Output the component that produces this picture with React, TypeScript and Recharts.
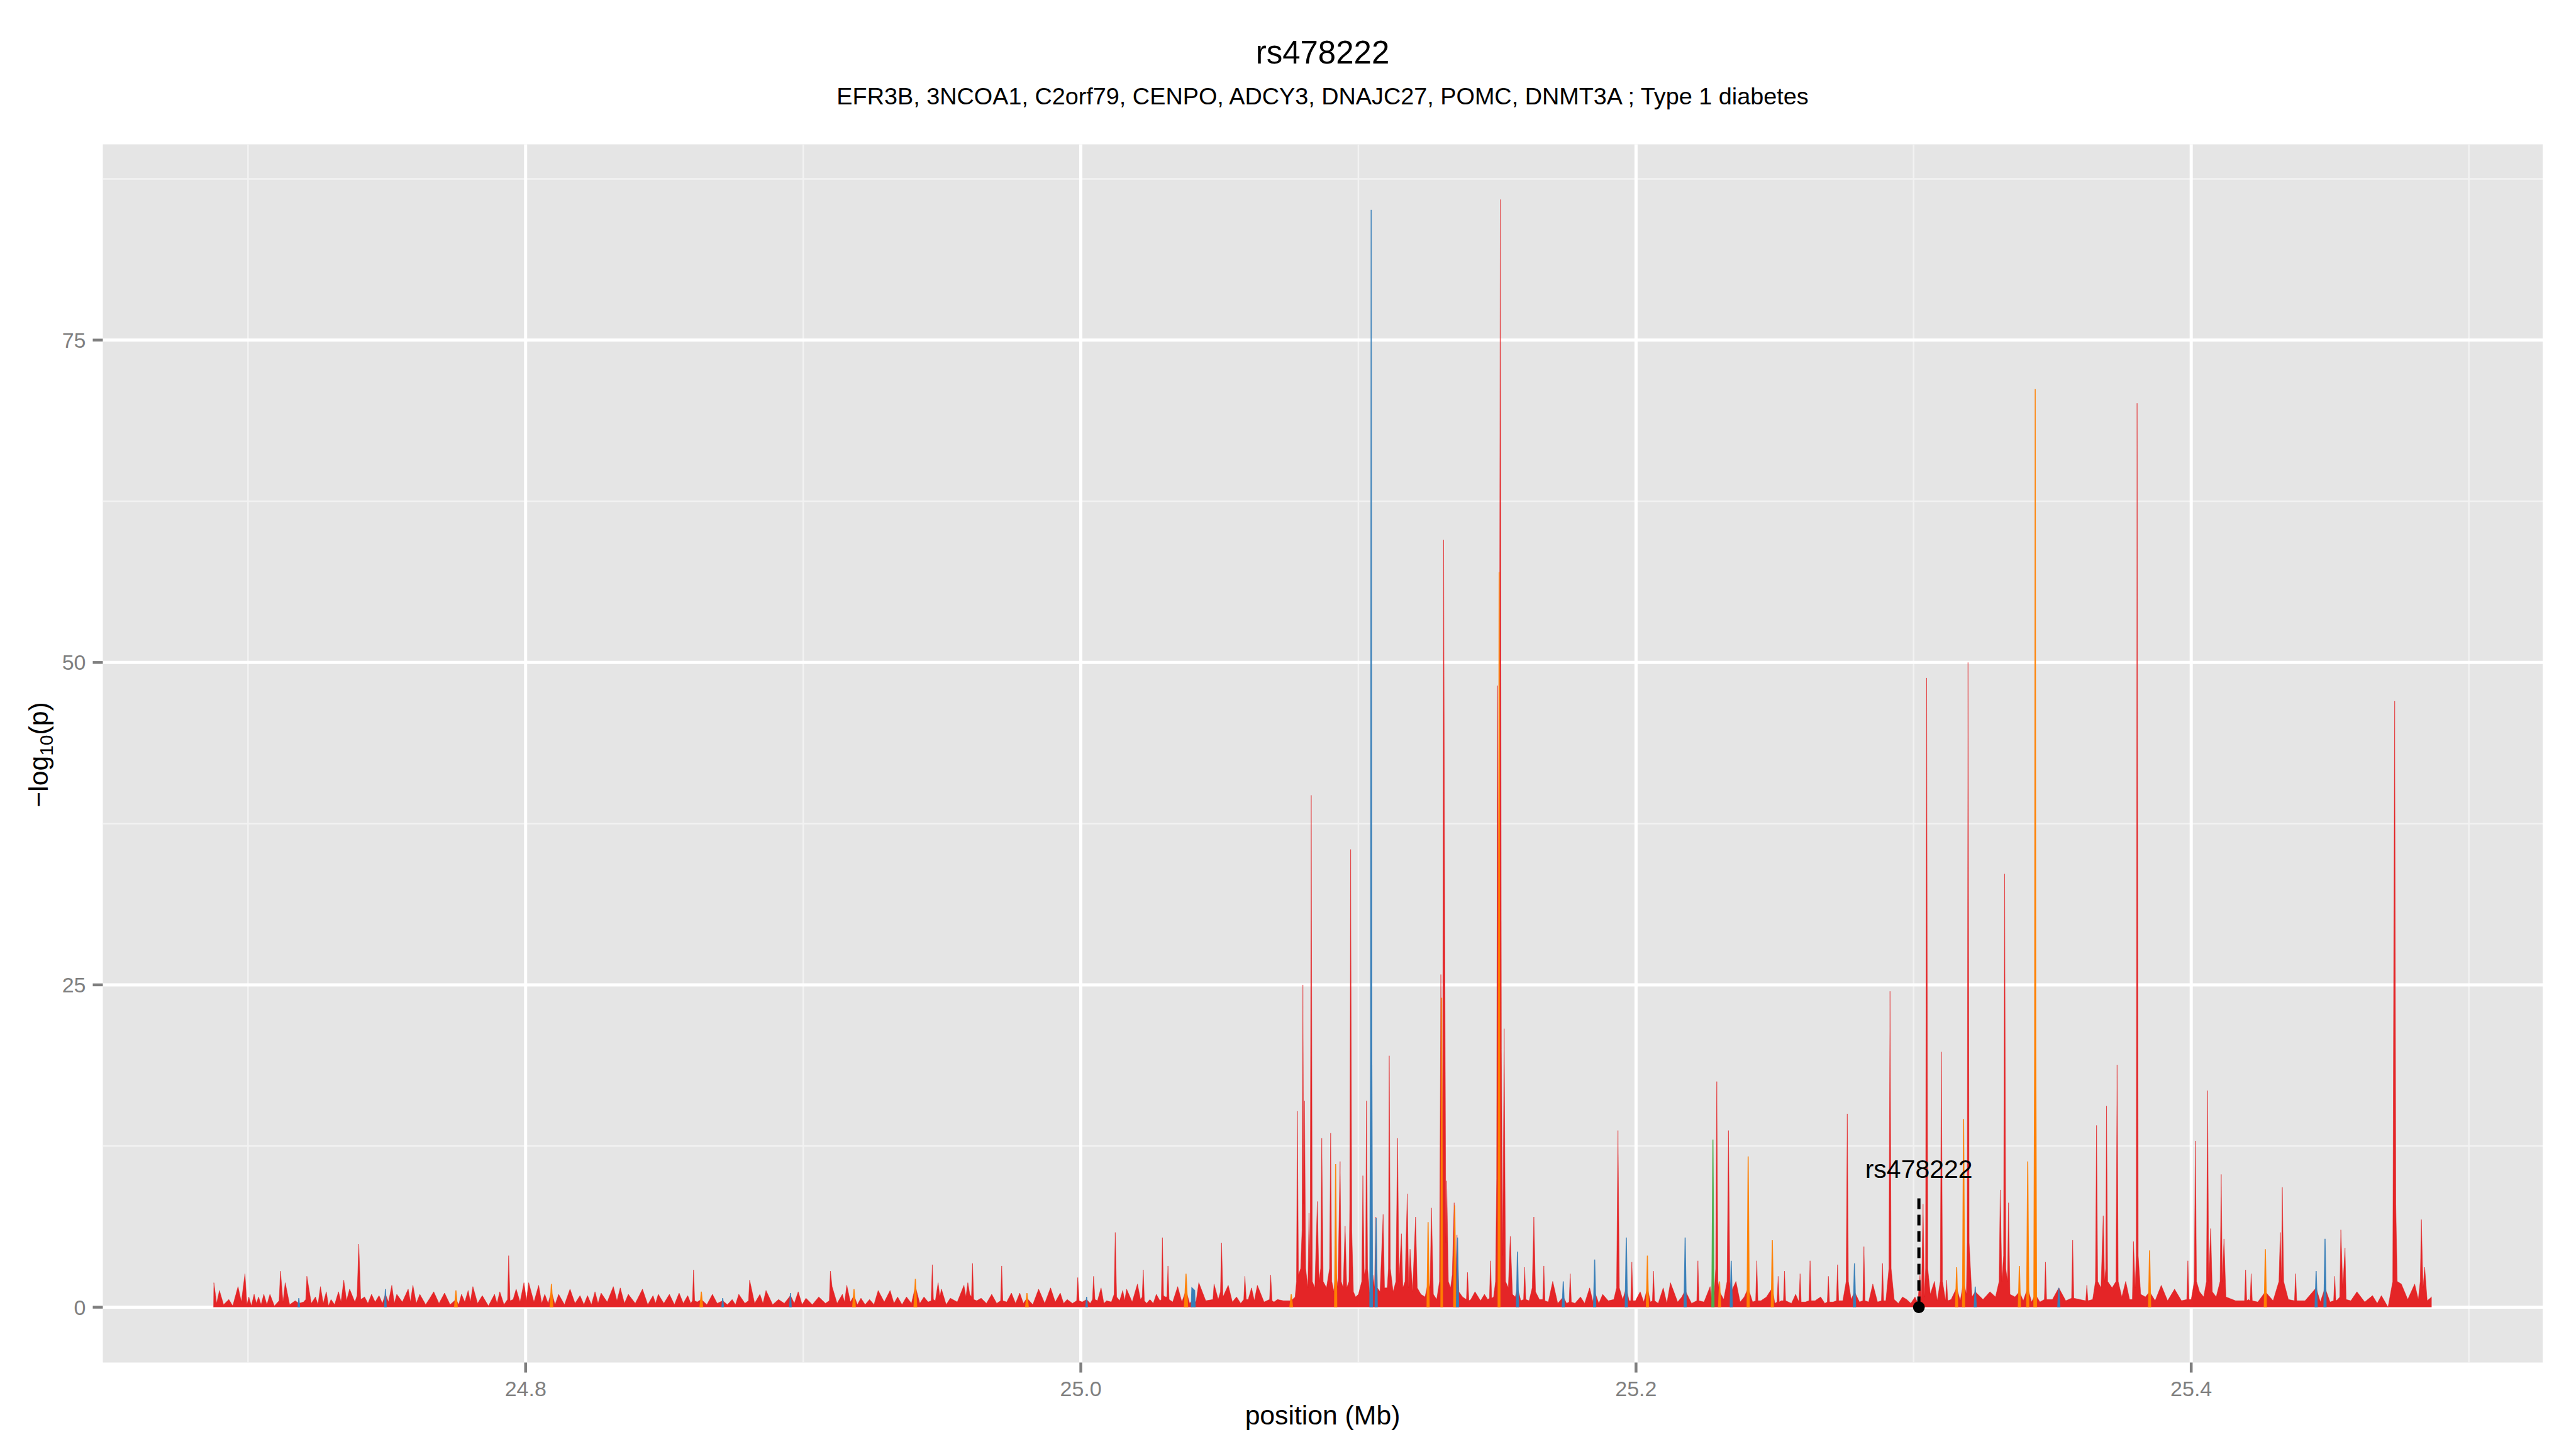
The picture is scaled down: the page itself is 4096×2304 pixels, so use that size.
import React from 'react';
import { ComposedChart, Area, XAxis, YAxis, CartesianGrid, ReferenceLine, ReferenceDot } from 'recharts';

const FONT = "'Liberation Sans', Arial, Helvetica, sans-serif";

const titleText = 'rs478222';
const subtitleText = 'EFR3B, 3NCOA1, C2orf79, CENPO, ADCY3, DNAJC27, POMC, DNMT3A ; Type 1 diabetes';
const xTitle = 'position (Mb)';

const xTicks = [24.8, 25.0, 25.2, 25.4];
const xMinor = [24.7, 24.9, 25.1, 25.3, 25.5];
const yTicks = [0, 25, 50, 75];
const yMinor = [12.5, 37.5, 62.5, 87.5];
const xDomain = [24.6477, 25.5266];
const yDomain = [-4.29, 90.18];

const snpName = 'rs478222';
const snpPos = 25.3019;
const snpLineTop = 8.5;
const snpLabelY = 10;

// red series: [position (Mb), -log10(p)]
const redA: [number, number][] = [
  [24.6876,0],[24.6877,1.9],[24.6887,0.3],[24.6897,1.3],[24.6912,0.2],[24.6931,0.6],[24.6945,0.1],[24.6964,1.6],[24.6976,0.4],[24.6989,2.6],
  [24.6996,0.2],[24.7003,0.8],[24.7012,0.1],[24.7022,1.0],[24.7030,0.3],[24.7038,0.8],[24.7047,0.2],[24.7057,1.0],[24.7068,0.2],[24.7079,1.0],
  [24.7095,0.1],[24.7112,0.5],[24.7117,2.8],[24.7126,0.4],[24.7134,1.9],[24.7150,0.2],[24.7170,0.5],[24.7183,0.3],[24.7200,0.4],[24.7208,0.6],
  [24.7212,2.4],[24.7228,0.3],[24.7243,0.8],[24.7252,0.2],[24.7261,1.6],[24.7271,0.3],[24.7282,1.2],[24.7290,0.1],[24.7299,0.6],[24.7312,0.2],
  [24.7326,1.2],[24.7335,0.4],[24.7345,2.1],[24.7355,0.5],[24.7366,1.4],[24.7385,0.4],[24.7393,0.9],[24.7399,4.9],[24.7406,0.6],[24.7420,0.8],
  [24.7432,0.3],[24.7445,1.0],[24.7458,0.4],[24.7472,0.9],[24.7484,0.3],[24.7495,1.0],[24.7506,0.4],[24.7518,1.7],[24.7527,0.3],[24.7536,1.0],
  [24.7556,0.4],[24.7577,1.4],[24.7585,0.4],[24.7594,1.7],[24.7606,0.3],[24.7619,1.0],[24.7640,0.2],[24.7655,0.7],[24.7669,1.2],[24.7688,0.3],
  [24.7708,1.1],[24.7728,0.2],[24.7749,0.6],[24.7759,0.2],[24.7769,1.0],[24.7781,0.4],[24.7793,1.3],[24.7801,0.4],[24.7810,1.6],[24.7827,0.3],
  [24.7844,0.9],[24.7866,0.1],[24.7888,1.0],[24.7897,0.3],[24.7907,1.2],[24.7922,0.2],[24.7935,0.6],[24.7939,4.0],[24.7944,0.5],[24.7955,0.6],
  [24.7966,1.4],[24.7980,0.4],[24.7994,1.9],[24.8003,0.5],[24.8011,1.9],[24.8030,0.4],[24.8047,1.7],[24.8058,0.3],[24.8069,1.0],[24.8081,0.3],
  [24.8093,1.2],[24.8106,0.2],[24.8119,1.0],[24.8140,0.2],[24.8160,1.4],[24.8178,0.3],[24.8196,0.9],[24.8210,0.2],[24.8223,0.9],[24.8237,0.2],
  [24.8250,1.2],[24.8261,0.3],[24.8272,1.1],[24.8294,0.4],[24.8316,1.6],[24.8329,0.5],[24.8341,1.5],[24.8356,0.3],[24.8370,1.0],[24.8395,0.3],
  [24.8421,1.4],[24.8440,0.2],[24.8459,0.9],[24.8468,0.3],[24.8478,1.0],[24.8498,0.3],[24.8518,1.0],[24.8536,0.2],[24.8553,1.1],[24.8568,0.3],
  [24.8584,0.9],
];

const redB: [number, number][] = [
  [24.8595,0.3],[24.8601,0.5],[24.8605,2.9],[24.8609,0.5],[24.8618,0.4],[24.8633,0.6],[24.8653,0.2],[24.8673,1.0],[24.8690,0.3],[24.8710,0.5],
  [24.8727,0.2],[24.8744,0.6],[24.8756,0.2],[24.8768,1.0],[24.8790,0.3],[24.8803,0.5],[24.8807,2.1],[24.8825,0.3],[24.8844,1.0],[24.8855,0.3],
  [24.8866,1.3],[24.8890,0.2],[24.8911,0.6],[24.8932,0.3],[24.8954,0.9],[24.8968,0.3],[24.8982,1.2],[24.8996,0.2],[24.9010,0.7],[24.9033,0.2],
  [24.9056,0.8],[24.9080,0.3],[24.9094,0.5],[24.9098,2.8],[24.9104,1.6],[24.9122,0.3],[24.9141,1.0],[24.9149,0.4],[24.9157,1.7],[24.9170,0.4],
  [24.9183,0.9],[24.9195,0.2],[24.9208,0.7],[24.9223,0.2],[24.9239,0.6],[24.9255,0.2],[24.9270,1.3],[24.9292,0.4],[24.9313,1.3],[24.9327,0.3],
  [24.9340,0.8],[24.9356,0.2],[24.9372,0.8],[24.9390,0.3],[24.9404,1.6],[24.9420,0.3],[24.9435,0.8],[24.9450,0.4],[24.9461,0.5],[24.9465,3.3],
  [24.9469,0.6],[24.9476,0.5],[24.9486,1.9],[24.9492,0.8],[24.9498,1.4],[24.9515,0.2],[24.9530,0.7],[24.9555,0.4],[24.9579,1.7],[24.9586,0.8],
  [24.9593,1.9],[24.9600,1.0],[24.9606,0.8],[24.9610,3.4],[24.9614,0.6],[24.9625,0.5],[24.9641,0.7],[24.9660,0.3],[24.9679,1.0],[24.9697,0.3],
  [24.9711,0.5],[24.9715,3.2],[24.9719,0.5],[24.9733,0.4],[24.9750,1.1],[24.9765,0.3],[24.9780,1.1],[24.9793,0.3],[24.9806,0.7],[24.9827,0.2],
  [24.9848,1.4],[24.9870,0.3],[24.9891,1.5],[24.9908,0.4],[24.9926,1.1],[24.9938,0.3],[24.9951,0.6],[24.9970,0.3],[24.9985,0.5],[24.9989,2.3],
  [24.9994,0.5],[25.0005,0.4],[25.0021,0.6],[25.0034,0.3],[25.0042,0.6],[25.0046,2.4],[25.0051,0.6],[25.0060,0.5],[25.0073,1.5],[25.0083,0.3],
  [25.0093,0.5],[25.0110,0.4],[25.0120,1.0],[25.0124,5.8],[25.0129,0.8],[25.0140,0.5],[25.0151,1.3],[25.0158,0.5],[25.0165,1.4],[25.0185,0.4],
  [25.0204,1.8],[25.0215,0.6],[25.0221,0.8],[25.0225,2.9],[25.0229,0.5],[25.0237,0.3],[25.0249,0.6],[25.0261,0.3],[25.0272,1.0],[25.0285,0.5],
  [25.0290,0.6],[25.0294,5.4],[25.0298,0.9],[25.0304,0.8],[25.0310,0.8],[25.0314,3.2],[25.0318,0.6],[25.0331,0.4],[25.0349,1.6],[25.0364,0.4],
  [25.0379,1.3],[25.0392,0.3],[25.0405,0.6],[25.0415,0.4],[25.0425,1.9],[25.0450,0.5],[25.0476,0.6],[25.0480,1.8],[25.0495,0.6],[25.0503,1.2],
  [25.0507,5.0],[25.0512,0.8],[25.0531,1.7],[25.0546,0.4],[25.0561,0.8],[25.0576,0.3],[25.0587,0.6],[25.0591,2.4],[25.0596,0.6],[25.0603,0.6],
  [25.0615,1.5],[25.0625,0.5],[25.0636,1.7],[25.0660,0.4],[25.0680,0.6],[25.0684,2.5],
];

const redC: [number, number][] = [
  [25.0689,0.5],[25.0696,0.4],[25.0708,0.6],[25.0730,0.5],[25.0758,0.5],[25.0772,0.8],[25.0777,2],[25.0780,15.2],[25.0784,2.5],[25.0792,3],
  [25.0797,6],[25.0800,25],[25.0803,8],[25.0806,16],[25.0810,3],[25.0818,1.5],[25.0822,7.3],[25.0826,3],[25.0830,39.7],[25.0834,2],
  [25.0843,1.5],[25.0852,8.2],[25.0858,2],[25.0864,3],[25.0868,13.1],[25.0873,2],[25.0885,1.5],[25.0896,3],[25.0900,13.5],[25.0904,2],
  [25.0912,1.2],[25.0918,3],[25.0926,1.5],[25.0934,11.3],[25.0938,2],[25.0945,1.5],[25.0952,6.3],[25.0958,1.5],[25.0966,2],[25.0969,8],
  [25.0972,35.5],[25.0976,6],[25.0982,1.2],[25.0990,0.8],[25.1000,1.0],[25.1012,2],[25.1016,10.2],[25.1021,2.5],[25.1026,3],[25.1029,16],
  [25.1033,3],[25.1040,1.2],[25.1046,1.0],[25.1052,2.5],[25.1058,1.5],[25.1063,7],[25.1068,1.5],[25.1078,1.2],[25.1089,7.2],[25.1094,1.5],
  [25.1104,1.5],[25.1108,3],[25.1111,19.5],[25.1115,3],[25.1125,1.2],[25.1135,2],[25.1141,13.1],[25.1146,2],[25.1155,5.7],[25.1160,1.5],
  [25.1168,2],[25.1176,8.8],[25.1181,1.5],[25.1186,4.5],[25.1195,1.2],[25.1206,7.0],[25.1212,1.5],[25.1225,1.0],[25.1240,0.8],[25.1252,2],
  [25.1258,1.5],[25.1263,7.7],[25.1270,1.0],[25.1282,0.6],[25.1292,2],[25.1297,25.8],[25.1301,8],[25.1304,20],[25.1307,59.5],[25.1311,28.8],
  [25.1315,5],[25.1318,9.8],[25.1324,2],[25.1332,1.5],[25.1338,2.5],[25.1345,8.1],[25.1350,2],[25.1355,5.6],[25.1362,1.2],[25.1375,0.8],
  [25.1389,0.6],[25.1393,2.7],[25.1398,0.5],[25.1405,0.6],[25.1420,1.2],[25.1440,0.5],[25.1454,1.0],[25.1466,0.6],[25.1472,0.7],[25.1476,3.6],
  [25.1480,0.7],[25.1487,0.8],[25.1494,2],[25.1498,10],[25.1501,48.2],[25.1505,30],[25.1508,40],[25.1511,85.9],[25.1515,20],[25.1520,4],
  [25.1525,21.6],[25.1530,2],[25.1540,1.5],[25.1547,5.5],[25.1555,1.0],[25.1565,0.8],[25.1573,1.5],[25.1585,0.5],[25.1595,0.6],[25.1599,3.1],
  [25.1603,0.6],[25.1615,0.5],[25.1626,1.5],[25.1632,7.0],[25.1638,1.2],[25.1652,0.6],
];

const redD: [number, number][] = [
  [25.1664,0.6],[25.1668,3.2],[25.1672,0.5],[25.1684,0.4],[25.1700,2.0],[25.1718,0.3],[25.1738,0.8],[25.1750,0.3],[25.1759,0.4],[25.1763,2.6],
  [25.1767,0.4],[25.1780,0.3],[25.1800,0.8],[25.1815,0.3],[25.1833,1.5],[25.1845,0.4],[25.1851,1.2],[25.1866,0.3],[25.1880,1.0],[25.1900,0.5],
  [25.1920,0.6],[25.1930,1.5],[25.1935,13.7],[25.1940,1.5],[25.1952,0.6],[25.1965,1.5],[25.1975,0.5],[25.1981,0.5],[25.1985,3.5],[25.1989,0.5],
  [25.1998,0.5],[25.2015,1.2],[25.2028,0.4],[25.2041,1.5],[25.2052,0.4],[25.2059,0.5],[25.2063,2.8],[25.2067,0.5],[25.2080,0.3],[25.2098,1.5],
  [25.2111,0.3],[25.2124,1.9],[25.2150,0.4],[25.2165,0.8],[25.2177,1.3],[25.2200,0.3],[25.2219,0.5],[25.2223,3.6],[25.2227,0.5],[25.2245,0.4],
  [25.2267,1.6],[25.2272,0.6],[25.2277,4],[25.2282,1],[25.2287,3],[25.2291,17.5],[25.2295,2],[25.2301,1.2],[25.2316,0.6],[25.2328,2],
  [25.2333,13.7],[25.2338,2],[25.2343,1.2],[25.2360,2.0],[25.2375,0.4],[25.2390,0.8],[25.2404,1.5],[25.2420,0.4],[25.2431,0.5],[25.2435,3.6],
  [25.2439,0.5],[25.2450,0.5],[25.2470,0.8],[25.2491,1.5],[25.2500,0.3],[25.2508,0.4],[25.2512,2.4],[25.2516,0.4],[25.2523,0.5],[25.2531,0.5],
  [25.2535,2.8],[25.2539,0.5],[25.2560,0.3],[25.2575,1.0],[25.2587,0.4],[25.2591,2.6],[25.2595,0.4],[25.2610,0.4],[25.2623,0.5],[25.2627,3.6],
  [25.2631,0.5],[25.2645,0.5],[25.2665,0.8],[25.2680,0.3],[25.2689,0.4],[25.2693,2.4],[25.2697,0.4],[25.2710,0.4],[25.2722,0.5],[25.2726,3.3],
  [25.2730,0.5],[25.2745,0.5],[25.2757,2],[25.2761,15],[25.2765,2],[25.2775,0.6],[25.2787,1.2],[25.2805,0.4],[25.2817,0.5],[25.2821,4.7],
  [25.2825,0.5],[25.2838,0.4],[25.2853,1.8],[25.2870,0.4],[25.2884,0.5],[25.2888,3.4],[25.2892,0.5],[25.2900,0.5],[25.2911,3],[25.2915,24.5],
  [25.2919,3],[25.2930,0.6],[25.2945,0.3],[25.2960,0.8],[25.2975,0.6],[25.2990,0.3],[25.3005,0.8],[25.3015,0.3],
];

const redE: [number, number][] = [
  [25.3023,2.5],[25.3028,0.6],[25.3034,8.0],[25.3039,0.8],[25.3043,3],[25.3047,48.8],[25.3051,3],[25.3060,1.0],[25.3075,2],[25.3085,0.5],
  [25.3096,2],[25.3100,19.8],[25.3104,2],[25.3115,0.5],[25.3119,2.1],[25.3123,0.5],[25.3135,0.6],[25.3155,1.5],[25.3168,0.5],[25.3180,2],
  [25.3190,1],[25.3193,5],[25.3196,50],[25.3200,5],[25.3210,0.8],[25.3222,1.2],[25.3250,0.6],[25.3275,1.2],[25.3295,0.8],[25.3308,2],
  [25.3312,9.1],[25.3318,2],[25.3324,4],[25.3328,33.6],[25.3332,3],[25.3338,2],[25.3342,8.1],[25.3347,1],[25.3365,0.8],[25.3381,1.2],
  [25.3395,0.5],[25.3411,1.5],[25.3425,0.4],[25.3438,1.0],[25.3455,0.4],[25.3471,0.6],[25.3475,3.5],[25.3479,0.6],[25.3500,0.6],[25.3523,1.5],
  [25.3548,0.5],[25.3569,0.7],[25.3573,5.2],[25.3577,0.7],[25.3598,0.6],[25.3620,0.5],[25.3624,1.7],[25.3628,0.5],[25.3645,0.6],[25.3655,2],
  [25.3659,14.1],[25.3663,2],[25.3675,1.5],[25.3683,7.1],[25.3688,2],[25.3692,3],[25.3695,15.6],[25.3699,2],[25.3715,1.5],[25.3729,2],
  [25.3733,18.8],[25.3737,2],[25.3750,0.8],[25.3764,2.0],[25.3778,0.6],[25.3788,0.6],[25.3792,5.1],[25.3798,1.5],[25.3802,4],[25.3805,70.1],
  [25.3809,4],[25.3818,1.0],[25.3835,0.8],[25.3850,1.2],[25.3870,0.5],[25.3892,1.7],[25.3915,0.5],[25.3940,1.4],[25.3965,0.5],[25.3984,0.6],
  [25.3988,3.6],[25.3992,0.6],[25.4000,0.6],[25.4011,2],[25.4015,12.9],[25.4019,2],[25.4030,1.2],[25.4045,0.8],[25.4055,2],[25.4059,16.8],
  [25.4063,2],[25.4070,6.1],[25.4076,1.2],[25.4090,0.8],[25.4104,2],[25.4108,10.3],[25.4112,2],[25.4118,5.3],[25.4125,0.8],[25.4160,0.5],
  [25.4192,0.5],[25.4196,2.9],[25.4200,0.5],[25.4206,0.6],[25.4212,0.5],[25.4216,2.6],[25.4220,0.5],[25.4240,0.4],[25.4267,1.2],[25.4295,0.5],
  [25.4316,2],[25.4321,5.8],[25.4325,2],[25.4328,9.3],[25.4333,2],[25.4350,0.6],[25.4372,0.5],[25.4376,2.6],[25.4380,0.5],[25.4410,0.5],
  [25.4450,1.5],[25.4465,0.4],[25.4482,1.5],[25.4500,0.4],[25.4513,0.5],[25.4517,2.4],[25.4521,0.5],[25.4528,0.6],[25.4535,0.8],[25.4539,6.0],
  [25.4546,1.5],[25.4554,4.6],[25.4558,0.6],[25.4575,0.5],[25.4597,1.2],[25.4625,0.4],[25.4653,0.9],[25.4670,0.3],[25.4685,0.9],[25.4709,0],
  [25.4726,2],[25.4730,30],[25.4733,47],[25.4737,8],[25.4742,2],[25.4757,1.8],[25.4780,0.6],[25.4805,1.8],[25.4818,0.6],[25.4825,2],
  [25.4829,6.8],[25.4835,1.5],[25.4841,3.1],[25.4850,0.5],[25.4866,0.8],
];

// orange, blue and green spikes: one small group of [position, value] per spike
const orangeSpikes: [number, number][][] = [
  [[24.7744,0],[24.7749,1.3],[24.7754,0]], [[24.8088,0],[24.8093,1.8],[24.8098,0]], [[24.8628,0],[24.8633,1.2],[24.8638,0]],
  [[24.9178,0],[24.9183,1.4],[24.9188,0]], [[24.9399,0],[24.9404,2.2],[24.9409,0]], [[24.9801,0],[24.9806,1.1],[24.9811,0]],
  [[25.0373,0],[25.0379,2.6],[25.0385,0]], [[25.0753,0],[25.0758,1.0],[25.0763,0]], [[25.0914,0],[25.0918,11.1],[25.0922,0]],
  [[25.1247,0],[25.1251,6.6],[25.1255,0]], [[25.1297,0],[25.1300,24],[25.1303,0]], [[25.1343,0],[25.1347,7.9],[25.1351,0]],
  [[25.1503,0],[25.1507,57],[25.1510,0]], [[25.2037,0],[25.2041,4.0],[25.2045,0]], [[25.2297,0],[25.2301,2.0],[25.2305,0]],
  [[25.2400,0],[25.2404,11.7],[25.2408,0]], [[25.2487,0],[25.2491,5.2],[25.2495,0]], [[25.3151,0],[25.3155,3.1],[25.3159,0]],
  [[25.3176,0],[25.3180,14.6],[25.3184,0]], [[25.3377,0],[25.3381,3.2],[25.3385,0]], [[25.3407,0],[25.3411,11.3],[25.3415,0]],
  [[25.3433,0],[25.3436,20],[25.3438,71.2],[25.3440,20],[25.3443,0]], [[25.3846,0],[25.3850,4.4],[25.3854,0]],
  [[25.4263,0],[25.4267,4.5],[25.4271,0]],
];

const blueSpikes: [number, number][][] = [
  [[24.7180,0],[24.7183,0.7],[24.7186,0]], [[24.7492,0],[24.7495,1.4],[24.7498,0]], [[24.8707,0],[24.8710,0.7],[24.8713,0]],
  [[24.8951,0],[24.8954,1.1],[24.8957,0]], [[25.0018,0],[25.0021,0.8],[25.0024,0]], [[25.0398,0],[25.0400,1.5],[25.0410,1.3],[25.0412,0]],
  [[25.1041,0],[25.1044,20],[25.1046,85.1],[25.1048,20],[25.1051,0]], [[25.1060,0],[25.1064,6.9],[25.1068,0]],
  [[25.1353,0],[25.1357,5.4],[25.1361,0]], [[25.1569,0],[25.1573,4.3],[25.1577,0]], [[25.1734,0],[25.1738,2.0],[25.1742,0]],
  [[25.1847,0],[25.1851,3.7],[25.1855,0]], [[25.1961,0],[25.1965,5.4],[25.1969,0]], [[25.2173,0],[25.2177,5.4],[25.2181,0]],
  [[25.2339,0],[25.2343,3.6],[25.2347,0]], [[25.2783,0],[25.2787,3.4],[25.2791,0]], [[25.3218,0],[25.3222,1.6],[25.3226,0]],
  [[25.3519,0],[25.3523,1.5],[25.3527,0]], [[25.4446,0],[25.4450,2.8],[25.4454,0]], [[25.4478,0],[25.4482,5.3],[25.4486,0]],
];

const greenSpikes: [number, number][][] = [
  [[25.2273,0],[25.2277,13],[25.2281,0]],
];

const RED = '#E41A1C';
const ORANGE = '#FF7F00';
const BLUE = '#377EB8';
const GREEN = '#4DAF4A';

const seriesDefs: { key: string; color: string; main: boolean; pairs: [number, number][] }[] = [
  { key: 'red', color: RED, main: true, pairs: [...redA, ...redB, ...redC, ...redD, ...redE] },
  ...orangeSpikes.map((g, i) => ({ key: `orange${i}`, color: ORANGE, main: false, pairs: g })),
  ...blueSpikes.map((g, i) => ({ key: `blue${i}`, color: BLUE, main: false, pairs: g })),
  ...greenSpikes.map((g, i) => ({ key: `green${i}`, color: GREEN, main: false, pairs: g })),
];

const rowMap = new Map<number, any>();
for (const s of seriesDefs) {
  for (const [pos, p] of s.pairs) {
    const row = rowMap.get(pos) ?? { pos };
    row[s.key] = p;
    rowMap.set(pos, row);
  }
}
const rows = Array.from(rowMap.values()).sort((a, b) => a.pos - b.pos);

const XTick = (props: any) => {
  const { x, y, payload } = props;
  return (
    <text x={x} y={y + 37} textAnchor="middle" fontSize={34} fontFamily={FONT} fill="#7F7F7F">
      {Number(payload.value).toFixed(1)}
    </text>
  );
};

const YTick = (props: any) => {
  const { x, y, payload } = props;
  return (
    <text x={x - 11} y={y + 12} textAnchor="end" fontSize={34} fontFamily={FONT} fill="#7F7F7F">
      {payload.value}
    </text>
  );
};

const SnpLabel = (props: any) => (
  <text x={props.cx} y={props.cy} textAnchor="middle" fontSize={41} fontFamily={FONT} fill="#000">
    {snpName}
  </text>
);

export default function App() {
  return (
    <div style={{ position: 'absolute', left: 0, top: 0, width: 4096, height: 2304, background: '#FFFFFF' }}>
      <ComposedChart
        width={4096}
        height={2304}
        data={rows}
        margin={{ top: 229.5, right: 53, bottom: 0, left: 0 }}
      >
        <CartesianGrid
          fill="#E5E5E5"
          fillOpacity={1}
          stroke="#F2F2F2"
          strokeWidth={2.5}
          horizontalValues={yMinor}
          verticalValues={xMinor}
        />
        <CartesianGrid
          stroke="#FFFFFF"
          strokeWidth={5}
          horizontalValues={yTicks}
          verticalValues={xTicks}
        />
        <XAxis
          dataKey="pos"
          type="number"
          scale="linear"
          domain={xDomain}
          allowDataOverflow
          ticks={xTicks}
          interval={0}
          height={137.5}
          axisLine={false}
          tickSize={16}
          tickMargin={0}
          tickLine={{ stroke: '#7F7F7F', strokeWidth: 4.5 }}
          tick={<XTick />}
        />
        <YAxis
          type="number"
          domain={yDomain}
          allowDataOverflow
          ticks={yTicks}
          interval={0}
          width={163.5}
          axisLine={false}
          tickSize={16}
          tickMargin={0}
          tickLine={{ stroke: '#7F7F7F', strokeWidth: 4.5 }}
          tick={<YTick />}
        />
        {seriesDefs.map((s) => (
          <Area
            key={s.key}
            dataKey={s.key}
            type="linear"
            baseValue={0}
            connectNulls
            isAnimationActive={false}
            fill={s.color}
            fillOpacity={s.main ? 0.95 : 1}
            stroke={s.color}
            strokeOpacity={s.main ? 0.55 : 0.9}
            strokeWidth={s.main ? 1 : 1.6}
            dot={false}
            activeDot={false}
          />
        ))}
        <ReferenceLine
          segment={[{ x: snpPos, y: 0 }, { x: snpPos, y: snpLineTop }]}
          stroke="#000000"
          strokeWidth={5}
          strokeDasharray="17 9"
        />
        <ReferenceDot x={snpPos} y={0} r={9.4} fill="#000000" stroke="none" />
        <ReferenceDot x={snpPos} y={snpLabelY} r={0} shape={<SnpLabel />} />
      </ComposedChart>
      <svg
        width={4096}
        height={2304}
        style={{ position: 'absolute', left: 0, top: 0, pointerEvents: 'none' }}
      >
        <text x={2103} y={100.7} textAnchor="middle" fontSize={51} fontFamily={FONT} fill="#000">
          {titleText}
        </text>
        <text x={2103} y={165.5} textAnchor="middle" fontSize={37.8} fontFamily={FONT} fill="#000">
          {subtitleText}
        </text>
        <text x={2103} y={2264.7} textAnchor="middle" fontSize={42.7} fontFamily={FONT} fill="#000">
          {xTitle}
        </text>
        <text
          x={76}
          y={1200}
          textAnchor="middle"
          fontSize={42.7}
          fontFamily={FONT}
          fill="#000"
          transform="rotate(-90, 76, 1200)"
        >
          {'\u2212log'}
          <tspan fontSize={30} dy={8}>10</tspan>
          <tspan dy={-8}>(p)</tspan>
        </text>
      </svg>
    </div>
  );
}
